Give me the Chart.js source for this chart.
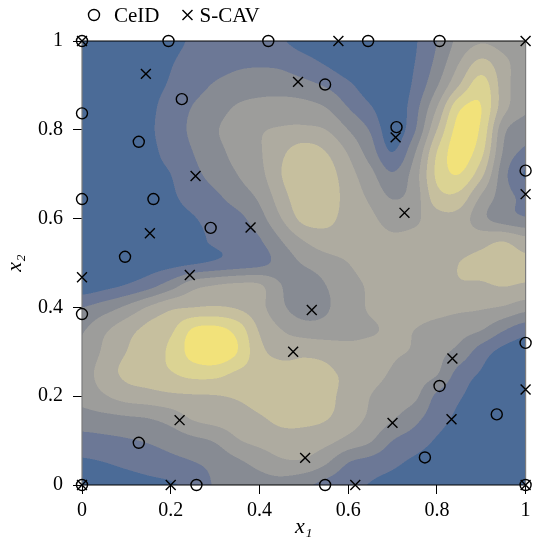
<!DOCTYPE html>
<html>
<head>
<meta charset="utf-8">
<script src="https://cdn.jsdelivr.net/npm/chart.js@4.4.1/dist/chart.umd.min.js"></script>
<style>
  html, body { margin: 0; padding: 0; background: #fff; }
  #wrap { width: 534px; height: 548px; }
</style>
</head>
<body>
<div id="wrap"><canvas id="chart" width="534" height="548"></canvas></div>
<script>
// grid positions of the background field (same for x and y)
const gridTicks = [0, 0.05, 0.1, 0.15, 0.2, 0.25, 0.3, 0.35, 0.4, 0.45, 0.5,
                   0.55, 0.6, 0.65, 0.7, 0.75, 0.8, 0.85, 0.9, 0.95, 1];

// field level, first row is x2 = 1, last row is x2 = 0
const fieldRows = [
  [0.2,0.2,0.3,0.5,0.8,1.1,1.4,1.6,1.5,1.1,0.6,0.3,0.2,0.3,0.5,0.9,2.0,3.3,3.9,3.6,3.3],
  [0.2,0.3,0.4,0.6,0.95,1.3,1.6,1.85,1.9,1.8,1.4,0.9,0.4,0.3,0.5,1.0,2.3,4.0,5.3,4.3,3.4],
  [0.3,0.35,0.45,0.7,1.1,1.6,2.1,2.4,2.5,2.5,2.3,1.9,1.2,0.5,0.3,1.2,2.9,5.0,6.5,4.5,3.2],
  [0.35,0.4,0.55,0.8,1.4,2.05,2.6,3.1,3.4,3.5,3.4,3.0,2.0,1.1,0.3,1.6,4.0,6.8,7.0,4.4,3.2],
  [0.4,0.45,0.6,0.85,1.5,2.2,2.9,3.4,3.9,4.1,4.2,4.0,3.0,1.9,0.4,1.9,5.0,7.4,6.8,3.3,2.4],
  [0.45,0.5,0.6,0.8,1.3,2.0,2.7,3.3,3.9,4.8,5.5,5.0,3.9,2.5,1.0,2.9,6.0,7.5,6.3,2.9,1.8],
  [0.5,0.55,0.65,0.8,1.0,1.7,2.4,3.0,3.7,5.0,5.9,5.5,4.4,3.3,2.1,3.5,6.2,7.0,5.3,2.4,0.9],
  [0.5,0.55,0.65,0.75,0.9,1.3,1.8,2.5,3.2,4.6,5.7,5.6,4.6,3.8,2.9,3.5,5.6,5.7,3.9,2.5,1.7],
  [0.5,0.55,0.6,0.7,0.8,0.95,1.3,1.7,2.6,4.0,5.3,5.3,4.6,4.2,3.6,3.8,4.6,4.6,3.3,2.5,2.1],
  [0.5,0.5,0.55,0.6,0.7,0.85,1.1,1.4,1.9,3.0,4.0,4.5,4.4,4.4,4.2,4.3,4.4,4.6,4.7,4.95,4.4],
  [0.5,0.5,0.55,0.6,0.7,0.9,1.15,1.4,1.7,2.4,3.1,3.6,4.0,4.3,4.4,4.4,4.6,5.0,5.2,5.3,5.2],
  [0.4,0.7,1.05,1.6,2.5,3.6,4.0,4.2,4.1,3.0,2.4,3.0,3.7,4.1,4.3,4.4,4.6,4.9,4.9,5.05,4.9],
  [2.0,2.5,3.2,4.1,4.8,5.0,5.1,4.9,4.3,3.2,2.5,2.9,3.5,4.1,4.2,4.3,4.3,4.2,4.1,3.9,3.4],
  [2.9,3.8,4.6,5.3,5.8,7.1,7.3,6.6,4.9,4.0,3.5,3.4,3.6,3.9,4.1,4.0,3.7,3.4,3.05,2.1,1.4],
  [3.1,4.2,5.0,5.5,6.2,7.4,7.8,7.0,5.3,4.7,4.8,4.7,4.4,4.3,4.1,3.9,3.3,2.7,1.5,0.7,0.4],
  [3.5,4.5,5.2,5.5,5.9,6.3,6.3,5.8,5.5,5.4,5.3,5.15,4.8,4.3,3.9,3.5,3.05,1.6,0.9,0.5,0.3],
  [3.3,3.9,4.4,4.6,4.8,4.9,4.95,5.1,5.3,5.4,5.4,5.2,4.7,4.0,3.6,3.2,1.8,1.1,0.6,0.3,0.2],
  [2.6,2.7,2.85,3.0,3.4,4.1,4.4,4.6,4.9,5.2,5.2,5.05,4.5,3.8,3.1,2.3,1.4,0.8,0.4,0.2,0.1],
  [1.6,1.75,1.9,2.1,2.4,2.75,3.1,3.9,4.3,4.6,4.6,4.3,3.7,3.1,2.0,1.5,0.9,0.5,0.3,0.15,0.1],
  [0.85,0.98,1.2,1.45,1.7,1.95,2.3,2.8,3.3,3.8,3.8,3.1,2.0,1.6,1.2,0.8,0.5,0.3,0.2,0.1,0.05],
  [0.4,0.5,0.6,0.75,0.9,1.3,2.1,2.4,2.6,2.6,2.2,1.7,1.3,0.95,0.7,0.5,0.35,0.2,0.1,0.05,0]
];

const levelColors = ['#4b6b97', '#6c7896', '#878b93', '#9d9d9b',
                     '#aeaba0', '#c6bf9e', '#dbd393', '#f2e27a'];

const ceidX = [0, 0.195, 0.42, 0.645, 0.806, 0.548, 0.709, 0.225, 0, 0.128, 0, 0.161, 0.29,
               0.097, 0, 1, 1, 0.806, 0.935, 0.773, 0.128, 0, 0.258, 0.548, 1];
const ceidY = [1, 1, 1, 1, 1, 0.902, 0.806, 0.869, 0.837, 0.773, 0.644, 0.644, 0.579,
               0.514, 0.385, 0.708, 0.32, 0.223, 0.159, 0.062, 0.095, 0, 0, 0, 0];

const scavX = [0, 0.578, 1, 0.144, 0.487, 0.707, 0.256, 1, 0.727, 0.38, 0.153, 0, 0.243,
               0.518, 0.476, 0.835, 1, 0.22, 0.70, 0.833, 0.503, 0, 0.2, 0.616, 1];
const scavY = [1, 1, 1, 0.926, 0.908, 0.783, 0.696, 0.655, 0.613, 0.58, 0.567, 0.468, 0.473,
               0.394, 0.30, 0.285, 0.215, 0.146, 0.14, 0.148, 0.061, 0, 0, 0, 0];

const axisTicks = [0, 0.2, 0.4, 0.6, 0.8, 1];

const serif = "'Liberation Serif', 'DejaVu Serif', serif";

function hexToRgb(h) {
  return [parseInt(h.slice(1, 3), 16), parseInt(h.slice(3, 5), 16), parseInt(h.slice(5, 7), 16)];
}

// Catmull-Rom interpolation of the field grid
function cr(p0, p1, p2, p3, t) {
  return 0.5 * (2 * p1 + (-p0 + p2) * t + (2 * p0 - 5 * p1 + 4 * p2 - p3) * t * t +
    (-p0 + 3 * p1 - 3 * p2 + p3) * t * t * t);
}
function sampleField(xv, yv) {
  const n = gridTicks.length;
  const step = gridTicks[1] - gridTicks[0];
  const u = Math.min(Math.max((xv - gridTicks[0]) / step, 0), n - 1);
  const v = Math.min(Math.max((gridTicks[n - 1] - yv) / step, 0), n - 1);
  const i = Math.min(Math.floor(u), n - 2), j = Math.min(Math.floor(v), n - 2);
  const t = u - i, s = v - j;
  const cl = k => Math.min(Math.max(k, 0), n - 1);
  const col = [];
  for (let r = -1; r <= 2; r++) {
    const row = fieldRows[cl(j + r)];
    col.push(cr(row[cl(i - 1)], row[i], row[i + 1], row[cl(i + 2)], t));
  }
  return cr(col[0], col[1], col[2], col[3], s);
}

const contourPlugin = {
  id: 'contour',
  beforeDatasetsDraw(chart) {
    const { ctx, chartArea: a, scales } = chart;
    const w = Math.round(a.right - a.left), h = Math.round(a.bottom - a.top);
    const off = document.createElement('canvas');
    off.width = w; off.height = h;
    const octx = off.getContext('2d');
    const img = octx.createImageData(w, h);
    const rgb = levelColors.map(hexToRgb);
    const sub = [0.25, 0.75];
    for (let py = 0; py < h; py++) {
      for (let px = 0; px < w; px++) {
        let r = 0, g = 0, b = 0;
        for (const sy of sub) {
          const yv = scales.y.getValueForPixel(a.top + py + sy);
          for (const sx of sub) {
            const xv = scales.x.getValueForPixel(a.left + px + sx);
            let lv = Math.floor(sampleField(xv, yv));
            lv = Math.min(Math.max(lv, 0), levelColors.length - 1);
            r += rgb[lv][0]; g += rgb[lv][1]; b += rgb[lv][2];
          }
        }
        const k = (py * w + px) * 4;
        img.data[k] = r / 4; img.data[k + 1] = g / 4; img.data[k + 2] = b / 4; img.data[k + 3] = 255;
      }
    }
    octx.putImageData(img, 0, 0);
    ctx.save();
    ctx.drawImage(off, a.left, a.top);
    // frame
    ctx.lineWidth = 1.2;
    ctx.strokeStyle = '#7c7c7c';
    ctx.beginPath();
    ctx.moveTo(a.left, a.top); ctx.lineTo(a.left, a.bottom);
    ctx.moveTo(a.right, a.top); ctx.lineTo(a.right, a.bottom);
    ctx.stroke();
    ctx.strokeStyle = '#000';
    ctx.beginPath();
    ctx.moveTo(a.left, a.top); ctx.lineTo(a.right, a.top);
    ctx.moveTo(a.left, a.bottom); ctx.lineTo(a.right, a.bottom);
    ctx.stroke();
    ctx.restore();
  }
};

const legendPlugin = {
  id: 'topLegend',
  afterDraw(chart) {
    const { ctx, chartArea: a } = chart;
    const y = 15;
    ctx.save();
    ctx.strokeStyle = '#000';
    ctx.fillStyle = '#000';
    ctx.lineWidth = 1.4;
    ctx.font = '21px ' + serif;
    ctx.textBaseline = 'middle';
    let x = a.left + 12;
    ctx.beginPath();
    ctx.arc(x, y, 5.5, 0, Math.PI * 2);
    ctx.stroke();
    x += 20;
    ctx.fillText(chart.data.datasets[0].label, x, y + 1);
    x += ctx.measureText(chart.data.datasets[0].label).width + 28;
    const d = 5;
    ctx.beginPath();
    ctx.moveTo(x - d, y - d); ctx.lineTo(x + d, y + d);
    ctx.moveTo(x - d, y + d); ctx.lineTo(x + d, y - d);
    ctx.stroke();
    x += 12;
    ctx.fillText(chart.data.datasets[1].label, x, y + 1);
    ctx.restore();
  }
};

const tickFmt = v => String(Math.round(v * 10) / 10);

new Chart(document.getElementById('chart'), {
  type: 'scatter',
  data: {
    datasets: [
      {
        label: 'CeID',
        data: ceidX.map((x, i) => ({ x: x, y: ceidY[i] })),
        pointStyle: 'circle',
        pointRadius: 5.5,
        pointBorderWidth: 1.4,
        pointBorderColor: '#000',
        pointBackgroundColor: 'rgba(0,0,0,0)',
        clip: false
      },
      {
        label: 'S-CAV',
        data: scavX.map((x, i) => ({ x: x, y: scavY[i] })),
        pointStyle: 'crossRot',
        pointRadius: 7,
        pointBorderWidth: 1.4,
        pointBorderColor: '#000',
        pointBackgroundColor: 'rgba(0,0,0,0)',
        clip: false
      }
    ]
  },
  options: {
    responsive: false,
    animation: false,
    devicePixelRatio: 1,
    layout: { padding: { top: 41, right: 7, left: 0, bottom: 0 } },
    plugins: {
      legend: { display: false },
      tooltip: { enabled: false }
    },
    scales: {
      x: {
        type: 'linear',
        min: 0,
        max: 1,
        afterBuildTicks: s => { s.ticks = axisTicks.map(v => ({ value: v })); },
        afterFit: s => { s.height = 63; s.paddingLeft = 0; s.paddingRight = 0; },
        ticks: { callback: tickFmt, color: '#000', font: { family: serif, size: 20 }, padding: 5, maxRotation: 0 },
        grid: { drawOnChartArea: false, drawTicks: true, tickLength: 9, color: '#000', lineWidth: 1 },
        border: { display: false },
        title: {
          display: true, text: 'x₁', color: '#000',
          font: { family: serif, size: 22, style: 'italic' },
          padding: { top: 0, bottom: 8 }
        }
      },
      y: {
        type: 'linear',
        min: 0,
        max: 1,
        afterBuildTicks: s => { s.ticks = axisTicks.map(v => ({ value: v })); },
        afterFit: s => { s.width = 82; s.paddingTop = 0; s.paddingBottom = 0; },
        ticks: { callback: tickFmt, color: '#000', font: { family: serif, size: 20 }, padding: 10 },
        grid: { drawOnChartArea: false, drawTicks: true, tickLength: 9, color: '#000', lineWidth: 1 },
        border: { display: false },
        title: {
          display: true, text: 'x₂', color: '#000',
          font: { family: serif, size: 22, style: 'italic' },
          padding: { top: 2, bottom: 0 }
        }
      }
    }
  },
  plugins: [contourPlugin, legendPlugin]
});
</script>
</body>
</html>
